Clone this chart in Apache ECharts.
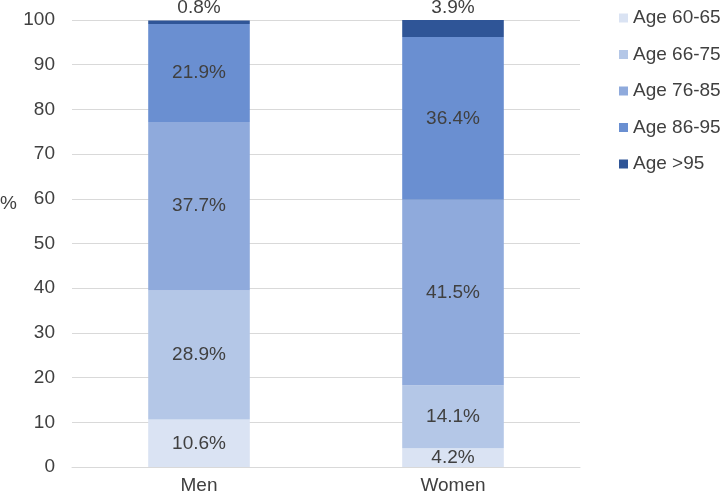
<!DOCTYPE html>
<html lang="en">
<head>
    <meta charset="UTF-8">
    <title>Age distribution</title>
    <script src="https://cdn.jsdelivr.net/npm/echarts@6/dist/echarts.min.js"></script>
</head>
<body style="margin:0">
<div id="main" style="width:722px;height:497px"></div>
<script type="text/javascript">
    var categories = ['Men', 'Women'];
    var seriesNames = ['Age 60-65', 'Age 66-75', 'Age 76-85', 'Age 86-95', 'Age >95'];
    var age60to65 = [10.6, 4.2];
    var age66to75 = [28.9, 14.1];
    var age76to85 = [37.7, 41.5];
    var age86to95 = [21.9, 36.4];
    var ageOver95 = [0.8, 3.9];
    var colors = ['#dae3f3', '#b4c7e7', '#8faadc', '#6a8fd1', '#2f5597'];

    var font = 'Liberation Sans, Arial, sans-serif';
    var allData = [age60to65, age66to75, age76to85, age86to95, ageOver95];

    var series = allData.map(function (d, i) {
        return {
            name: seriesNames[i],
            type: 'bar',
            stack: 'total',
            barWidth: '40%',
            data: d,
            itemStyle: { color: colors[i] },
            label: {
                show: true,
                position: i === 4 ? 'top' : 'inside',
                distance: 3,
                color: '#404040',
                fontSize: 19,
                fontFamily: font,
                formatter: function (p) { return p.value.toFixed(1) + '%'; }
            }
        };
    });

    var chart = echarts.init(document.getElementById('main'));
    var option = {
        animation: false,
        grid: { left: 72, right: 142, top: 20, bottom: 30 },
        xAxis: {
            type: 'category',
            data: categories,
            axisLine: { lineStyle: { color: '#d9d9d9', width: 1 } },
            axisTick: { show: false },
            axisLabel: { color: '#404040', fontSize: 19, fontFamily: font, margin: 9 }
        },
        yAxis: {
            type: 'value',
            min: 0,
            max: 100,
            interval: 10,
            axisLine: { show: false },
            axisTick: { show: false },
            axisLabel: { color: '#404040', fontSize: 19, fontFamily: font, margin: 17 },
            splitLine: { lineStyle: { color: '#d9d9d9', width: 1 } }
        },
        legend: {
            orient: 'vertical',
            left: 619,
            top: 8,
            padding: 0,
            icon: 'rect',
            itemWidth: 9,
            itemHeight: 9,
            itemGap: 16.5,
            data: seriesNames,
            textStyle: { color: '#404040', fontSize: 19, fontFamily: font, lineHeight: 20 }
        },
        graphic: [{
            type: 'text',
            left: 0,
            top: 194,
            style: { text: '%', fill: '#404040', font: '19px ' + font }
        }],
        series: series
    };
    chart.setOption(option);
</script>
</body>
</html>
